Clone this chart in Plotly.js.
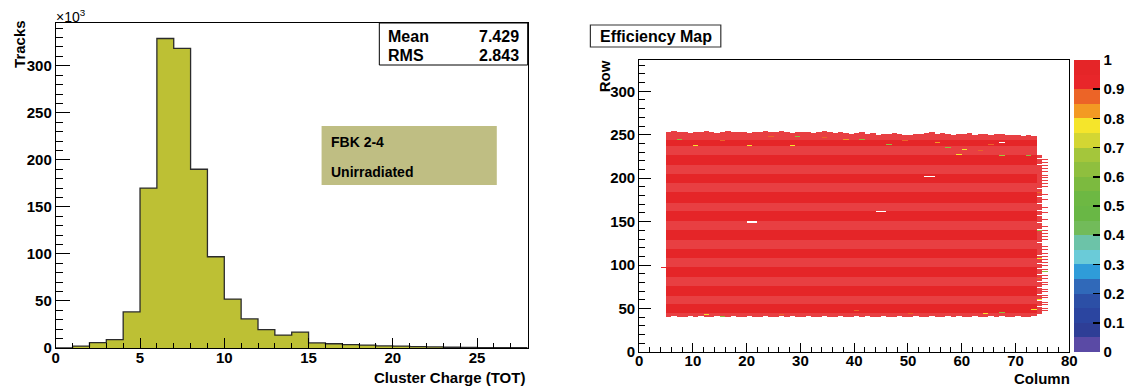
<!DOCTYPE html>
<html><head><meta charset="utf-8">
<script src="https://cdn.plot.ly/plotly-3.0.1.min.js"></script>
<style>html,body{margin:0;padding:0;background:#fff;}#chart{width:1133px;height:386px;}</style>
</head><body><div id="chart"></div>
<script>
// ---------- Left panel: cluster charge histogram ----------
const totBinLow = [0,1,2,3,4,5,6,7,8,9,10,11,12,13,14,15,16,17,18,19,20,21,22,23,24,25,26,27];
const tracksThousands = [0,2.0,5.7,9.0,38.4,170,329,318.5,190,97,52,31,19.5,13.6,16.9,5.5,4.5,3.5,3.0,2.3,1.9,1.5,1.2,0.8,0.7,0.5,0.4,0.3];
const histXTicks = [0,5,10,15,20,25];
const histYTicks = [0,50,100,150,200,250,300];
const statsLabels = ['Mean','RMS'];
const statsValues = ['7.429','2.843'];
const legendLines = ['FBK 2-4','Unirradiated'];

// ---------- Right panel: efficiency map ----------
const mapCols = [5,6,7,8,9,10,11,12,13,14,15,16,17,18,19,20,21,22,23,24,25,26,27,28,29,30,31,32,33,34,35,36,37,38,39,40,41,42,43,44,45,46,47,48,49,50,51,52,53,54,55,56,57,58,59,60,61,62,63,64,65,66,67,68,69,70,71,72,73,74];
const colTopRow = [252,253,252,252,251,252,252,253,252,251,252,253,252,252,252,251,252,252,253,252,252,253,252,251,252,252,252,251,252,253,252,251,252,251,250,251,252,250,251,249,250,250,251,250,249,249,250,250,251,252,250,251,250,249,250,250,251,249,250,250,249,250,250,249,249,249,248,249,247,226];
const colBottomRow = [41,42,41,41,42,41,42,41,41,42,41,41,42,41,41,42,41,41,42,41,41,42,41,42,41,41,42,41,41,42,41,41,42,41,41,42,41,42,41,41,42,41,41,42,41,41,42,41,41,42,41,41,42,41,42,41,41,42,41,41,42,41,42,41,41,42,41,41,42,44];
const baseEfficiency = 0.99;
const lightRowBands = [[244,253],[227,236],[205,214],[184,193],[162,171],[141,150],[119,128],[98,107],[76,85],[55,64],[41,44]];
const lightCols = [74,75];
const col75Rows = [221,218,214,211,207,203,200,197,193,190,186,181,178,175,171,166,163,160,155,152,148,144,139,136,133,129,125,121,118,113,110,106,103,99,95,92,88,84,80,77,72,69,65,62,57,54,50,47];
const col74GapRows = [222,215,209,201,194,188,179,170,162,157,149,141,132,126,117,111,102,96,89,81,74,66,59,52];
const strayCells = [[4,97]];
const deadCells = [[20,149],[21,149],[20,150],[21,150],[44,161],[45,161],[53,201],[54,201],[55,201],[53,202],[54,202],[67,241]];
const spotCells = [[7,244,0.62],[10,237,0.78],[15,243,0.86],[20,237,0.78],[24,247,0.86],[28,237,0.78],[29,247,0.62],[31,240,0.66],[41,244,0.62],[46,238,0.61],[54,248,0.57],[57,235,0.63],[59,227,0.78],[65,238,0.86],[67,226,0.66],[72,226,0.62],[55,241,0.83],[60,233,0.78],[34,246,0.88],[38,244,0.83],[49,243,0.88],[63,231,0.86],[12,43,0.78],[15,41,0.61],[40,47,0.86],[67,45,0.62],[64,44,0.78],[73,49,0.78],[26,43,0.88],[50,44,0.86],[74,183,0.86],[74,139,0.61],[74,107,0.78],[74,84,0.86],[75,92,0.62],[74,60,0.78],[75,140,0.6]];
const mapXTicks = [0,10,20,30,40,50,60,70,80];
const mapYTicks = [0,50,100,150,200,250,300];
const effTicks = [0,0.1,0.2,0.3,0.4,0.5,0.6,0.7,0.8,0.9,1];
const paletteColors = ['#5a4aa5','#2e3e96','#2b45a0','#2c4fa6','#3069b9','#2f9cd9','#6acbd8','#6cc3a8','#72bb5a','#69b745','#6db843','#7cba3f','#8fbf3e','#a4c63b','#d3d633','#f5e52b','#f39a23','#ec6427','#e8262a','#e52528'];

// ---------- build traces ----------
const W = 1133, H = 386;
const px = x => x / W, py = y => 1 - y / H;

const histCenters = totBinLow.map(b => b + 0.5);
const stepX = [], stepY = [];
totBinLow.forEach((b, i) => { stepX.push(b); stepY.push(tracksThousands[i]); });
stepX.push(totBinLow[totBinLow.length-1] + 1); stepY.push(tracksThousands[tracksThousands.length-1]);

const gridRows = []; for (let r = 36; r <= 258; r++) gridRows.push(r);
const gridCols = []; for (let c = 3; c <= 77; c++) gridCols.push(c);
const zMain = gridRows.map(() => gridCols.map(() => null));
const zLight = gridRows.map(() => gridCols.map(() => null));
const ri = r => gridRows.indexOf(r), ci = c => gridCols.indexOf(c);
const inLight = r => lightRowBands.some(b => r >= b[0] && r <= b[1]);
function putCell(c, r, v) {
  const i = ri(r), j = ci(c);
  if (i < 0 || j < 0) return;
  if (lightCols.includes(c) || inLight(r)) { zLight[i][j] = v; zMain[i][j] = null; }
  else { zMain[i][j] = v; zLight[i][j] = null; }
}
function clearCell(c, r) { const i = ri(r), j = ci(c); if (i >= 0 && j >= 0) { zMain[i][j] = null; zLight[i][j] = null; } }
mapCols.forEach((c, k) => { for (let r = colBottomRow[k]; r <= colTopRow[k]; r++) putCell(c, r, baseEfficiency); });
col74GapRows.forEach(r => clearCell(74, r));
col75Rows.forEach(r => putCell(75, r, baseEfficiency));
strayCells.forEach(([c, r]) => putCell(c, r, baseEfficiency));
deadCells.forEach(([c, r]) => clearCell(c, r));
spotCells.forEach(([c, r, v]) => { zMain[ri(r)][ci(c)] = v; zLight[ri(r)][ci(c)] = null; });

const colorscale = [];
paletteColors.forEach((col, i) => { colorscale.push([i / 20, col]); colorscale.push([(i + 1) / 20, col]); });

const FAM = 'Liberation Sans, Arial, sans-serif';
const bold = { family: FAM, size: 15, color: '#000', weight: 'bold' };
const xC = gridCols.map(c => c + 0.5), yC = gridRows.map(r => r + 0.5);

const traces = [
  { type: 'bar', x: histCenters, y: tracksThousands, width: 1, marker: { color: '#bdc034', line: { width: 0 } }, xaxis: 'x', yaxis: 'y', hoverinfo: 'skip' },
  { type: 'scatter', mode: 'lines', x: stepX, y: stepY, line: { shape: 'hv', color: '#2b2b2b', width: 1.3 }, xaxis: 'x', yaxis: 'y', hoverinfo: 'skip' },
  { type: 'heatmap', x: xC, y: yC, z: zMain, zmin: 0, zmax: 1, colorscale: colorscale, xaxis: 'x2', yaxis: 'y2', hoverinfo: 'skip',
    colorbar: { x: px(1079), xanchor: 'left', xref: 'paper', thickness: 26, thicknessmode: 'pixels', len: 292, lenmode: 'pixels', y: py(206), yanchor: 'middle', yref: 'paper',
      tickvals: effTicks, ticktext: effTicks.map(String), ticks: 'inside', ticklen: 7, tickcolor: '#000', tickwidth: 1.5, tickfont: bold, outlinewidth: 0, ypad: 0, xpad: 0 } },
  { type: 'heatmap', x: xC, y: yC, z: zLight, zmin: 0, zmax: 1, colorscale: colorscale, showscale: false, opacity: 0.88, xaxis: 'x2', yaxis: 'y2', hoverinfo: 'skip' }
];

function axis(extra) {
  return Object.assign({ showline: true, mirror: true, linecolor: '#000', linewidth: 1, showgrid: false, zeroline: false,
    ticks: 'inside', tickcolor: '#000', tickwidth: 1, tickfont: bold, fixedrange: true }, extra);
}

const layout = {
  width: W, height: H, margin: { l: 0, r: 0, t: 0, b: 0 }, paper_bgcolor: '#fff', plot_bgcolor: '#fff',
  showlegend: false, bargap: 0,
  xaxis: axis({ domain: [px(56), px(530)], range: [0, 28], anchor: 'y', tickvals: histXTicks, ticklen: 10, ticklabelstandoff: -4, minor: { ticks: 'inside', ticklen: 5, dtick: 1, tick0: 0, tickcolor: '#000' } }),
  yaxis: axis({ domain: [py(348), py(23)], range: [0, 345.5], anchor: 'x', tickvals: histYTicks, ticklen: 14, minor: { ticks: 'inside', ticklen: 7, dtick: 10, tick0: 0, tickcolor: '#000' } }),
  xaxis2: axis({ domain: [px(642), px(1074)], range: [0, 80], anchor: 'y2', tickvals: mapXTicks, ticklen: 9, ticklabelstandoff: -5, minor: { ticks: 'inside', ticklen: 5, dtick: 2, tick0: 0, tickcolor: '#000' } }),
  yaxis2: axis({ domain: [py(352), py(60)], range: [0, 336], anchor: 'x2', tickvals: mapYTicks, ticklen: 12, minor: { ticks: 'inside', ticklen: 6, dtick: 10, tick0: 0, tickcolor: '#000' } }),
  shapes: [
    { type: 'rect', xref: 'paper', yref: 'paper', x0: px(381), x1: px(530), y0: py(65), y1: py(23), line: { color: '#000', width: 1 }, fillcolor: '#fff' },
    { type: 'rect', xref: 'paper', yref: 'paper', x0: px(323), x1: px(499), y0: py(185), y1: py(126), line: { width: 0 }, fillcolor: '#bfbe83' },
    { type: 'rect', xref: 'paper', yref: 'paper', x0: px(593), x1: px(724), y0: py(47), y1: py(25), line: { color: '#333', width: 1.2 }, fillcolor: '#fff' }
  ],
  annotations: [
    { text: statsLabels[0], xref: 'paper', yref: 'paper', x: px(388), y: py(36), xanchor: 'left', yanchor: 'middle', showarrow: false, font: Object.assign({}, bold, { size: 16 }) },
    { text: statsValues[0], xref: 'paper', yref: 'paper', x: px(523), y: py(36), xanchor: 'right', yanchor: 'middle', showarrow: false, font: Object.assign({}, bold, { size: 16 }) },
    { text: statsLabels[1], xref: 'paper', yref: 'paper', x: px(388), y: py(55), xanchor: 'left', yanchor: 'middle', showarrow: false, font: Object.assign({}, bold, { size: 16 }) },
    { text: statsValues[1], xref: 'paper', yref: 'paper', x: px(523), y: py(55), xanchor: 'right', yanchor: 'middle', showarrow: false, font: Object.assign({}, bold, { size: 16 }) },
    { text: legendLines[0], xref: 'paper', yref: 'paper', x: px(330), y: py(142), xanchor: 'left', yanchor: 'middle', showarrow: false, font: Object.assign({}, bold, { size: 14 }) },
    { text: legendLines[1], xref: 'paper', yref: 'paper', x: px(330), y: py(172), xanchor: 'left', yanchor: 'middle', showarrow: false, font: Object.assign({}, bold, { size: 14 }) },
    { text: '×10<sup>3</sup>', xref: 'paper', yref: 'paper', x: px(54), y: py(16), xanchor: 'left', yanchor: 'middle', showarrow: false, font: { family: FAM, size: 14, color: '#000' } },
    { text: 'Tracks', xref: 'paper', yref: 'paper', x: px(20), y: py(44), xanchor: 'center', yanchor: 'middle', textangle: -90, showarrow: false, font: bold },
    { text: 'Cluster Charge (TOT)', xref: 'paper', yref: 'paper', x: px(529), y: py(377), xanchor: 'right', yanchor: 'middle', showarrow: false, font: bold },
    { text: 'Efficiency Map', xref: 'paper', yref: 'paper', x: px(658.5), y: py(36), xanchor: 'center', yanchor: 'middle', showarrow: false, font: Object.assign({}, bold, { size: 16 }) },
    { text: 'Row', xref: 'paper', yref: 'paper', x: px(607), y: py(76), xanchor: 'center', yanchor: 'middle', textangle: -90, showarrow: false, font: bold },
    { text: 'Column', xref: 'paper', yref: 'paper', x: px(1077), y: py(378), xanchor: 'right', yanchor: 'middle', showarrow: false, font: bold }
  ]
};

Plotly.newPlot('chart', traces, layout, { staticPlot: true, displayModeBar: false });
</script></body></html>
